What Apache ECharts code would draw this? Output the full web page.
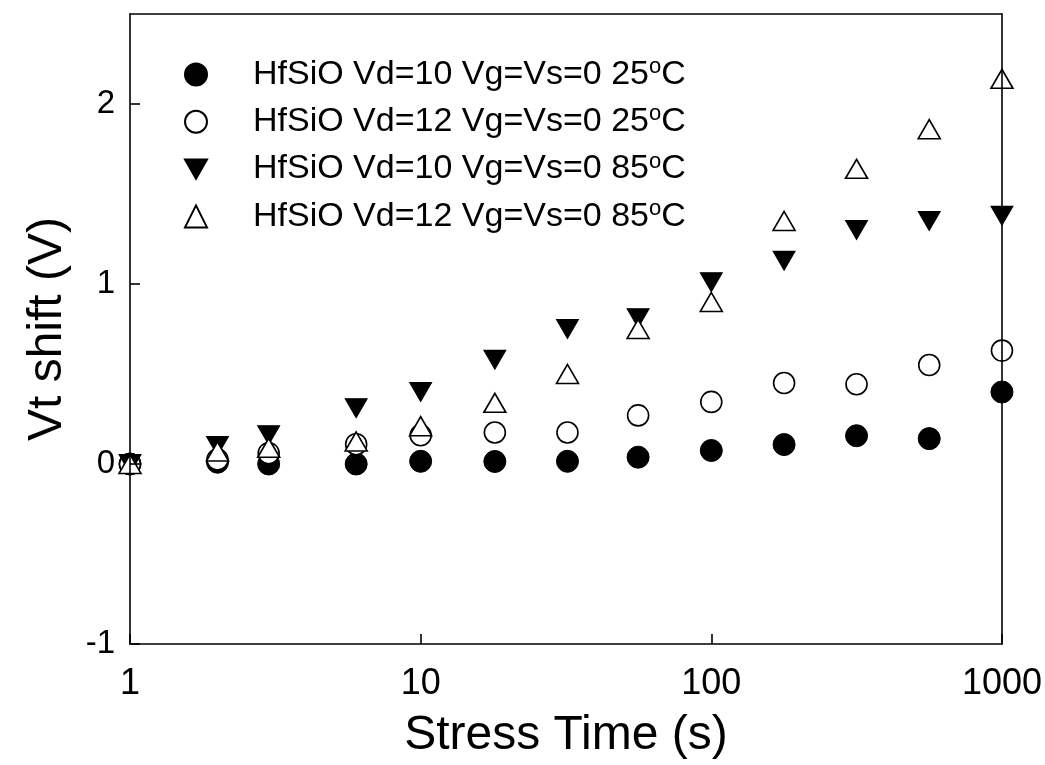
<!DOCTYPE html>
<html>
<head>
<meta charset="utf-8">
<script src="https://cdn.jsdelivr.net/npm/echarts@6/dist/echarts.min.js"></script>
<style>
html,body{margin:0;padding:0;background:#fff;}
#chart{width:1045px;height:765px;}
</style>
</head>
<body>
<div id="chart"></div>
<script>
// Data
const times = [1, 2, 3, 6, 10, 18, 32, 56, 100, 178, 316, 562, 1000];
const vd10_25C = [0, 0.01, 0, 0, 0.015, 0.014, 0.015, 0.038, 0.075, 0.108, 0.157, 0.141, 0.40];
const vd12_25C = [0, 0.025, 0.06, 0.11, 0.16, 0.175, 0.175, 0.27, 0.345, 0.45, 0.443, 0.55, 0.63];
const vd10_85C = [0, 0.10, 0.16, 0.31, 0.40, 0.58, 0.75, 0.81, 1.01, 1.13, 1.30, 1.35, 1.38];
const vd12_85C = [0, 0.07, 0.09, 0.125, 0.21, 0.34, 0.50, 0.75, 0.90, 1.35, 1.64, 1.86, 2.14];
const seriesNames = [
  'HfSiO Vd=10 Vg=Vs=0 25°C',
  'HfSiO Vd=12 Vg=Vs=0 25°C',
  'HfSiO Vd=10 Vg=Vs=0 85°C',
  'HfSiO Vd=12 Vg=Vs=0 85°C'
];
const xTickLabels = ['1', '10', '100', '1000'];
const yTickLabels = ['-1', '0', '1', '2'];

const FONT = '"Liberation Sans", Arial, Helvetica, sans-serif';
const DOWN_TRI = 'path://M0,0L2,0L1,1.732Z';

function pairs(ys) { return times.map((t, i) => [t, ys[i]]); }

const chart = echarts.init(document.getElementById('chart'), null, {renderer: 'canvas'});

const axisLine = {show: true, onZero: false, lineStyle: {color: '#000', width: 1.6}};

const option = {
  backgroundColor: '#fff',
  animation: false,
  textStyle: {fontFamily: FONT, color: '#000'},
  grid: {left: 130, right: 43, top: 14, bottom: 116, containLabel: false},
  legend: {
    orient: 'vertical',
    left: 179,
    top: 51,
    itemWidth: 22,
    itemHeight: 22,
    itemGap: 11.3,
    data: seriesNames,
    selectedMode: false,
    formatter: function (name) {
      return '{gap|}' + name.replace('°C', '{sup|o}C');
    },
    textStyle: {
      fontFamily: FONT,
      fontSize: 34,
      color: '#000',
      lineHeight: 35,
      rich: {
        gap: {width: 41},
        sup: {fontSize: 22, verticalAlign: 'bottom', lineHeight: 20, padding: [0, 0, 14, 0]}
      }
    }
  },
  xAxis: [
    {
      type: 'log', logBase: 10, min: 1, max: 1000,
      position: 'bottom', z: 10,
      axisLine: axisLine,
      axisTick: {show: true, inside: true, length: 10, lineStyle: {color: '#000', width: 1.6}},
      minorTick: {show: false},
      splitLine: {show: false},
      axisLabel: {
        fontFamily: FONT, fontSize: 36, color: '#000', margin: 22,
        formatter: function (v) {
          const s = String(Math.round(v));
          return xTickLabels.indexOf(s) >= 0 ? s : '';
        }
      },
      name: 'Stress Time (s)',
      nameLocation: 'middle',
      nameGap: 68,
      nameTextStyle: {fontFamily: FONT, fontSize: 48, color: '#000'}
    },
    {
      type: 'log', logBase: 10, min: 1, max: 1000,
      position: 'top', z: 10,
      axisLine: axisLine,
      axisTick: {show: false}, axisLabel: {show: false}, splitLine: {show: false}
    }
  ],
  yAxis: [
    {
      type: 'value', min: -1, max: 2.5, interval: 1,
      position: 'left', z: 10,
      axisLine: axisLine,
      axisTick: {show: true, inside: true, length: 10, lineStyle: {color: '#000', width: 1.6}},
      splitLine: {show: false},
      axisLabel: {
        fontFamily: FONT, fontSize: 33, color: '#000', margin: 15,
        showMaxLabel: false,
        formatter: function (v) {
          const s = String(v);
          return yTickLabels.indexOf(s) >= 0 ? s : '';
        }
      },
      name: 'Vt shift (V)',
      nameLocation: 'middle',
      nameGap: 58,
      nameTextStyle: {fontFamily: FONT, fontSize: 48, color: '#000'}
    },
    {
      type: 'value', min: -1, max: 2.5,
      position: 'right', z: 10,
      axisLine: axisLine,
      axisTick: {show: false}, axisLabel: {show: false}, splitLine: {show: false}
    }
  ],
  series: [
    {
      name: seriesNames[0], type: 'scatter', clip: false,
      symbol: 'circle', symbolSize: 22,
      itemStyle: {color: '#000', borderColor: '#000', borderWidth: 1, opacity: 1},
      data: pairs(vd10_25C)
    },
    {
      name: seriesNames[1], type: 'scatter', clip: false,
      symbol: 'circle', symbolSize: 21,
      itemStyle: {color: '#fff', borderColor: '#000', borderWidth: 1.6, opacity: 1},
      data: pairs(vd12_25C)
    },
    {
      name: seriesNames[2], type: 'scatter', clip: false,
      symbol: DOWN_TRI, symbolSize: [22, 19],
      itemStyle: {color: '#000', borderColor: '#000', borderWidth: 1, opacity: 1},
      data: pairs(vd10_85C)
    },
    {
      name: seriesNames[3], type: 'scatter', clip: false,
      symbol: 'triangle', symbolSize: [22, 19],
      itemStyle: {color: '#fff', borderColor: '#000', borderWidth: 1.6, opacity: 1},
      data: pairs(vd12_85C)
    }
  ]
};

chart.setOption(option);
</script>
</body>
</html>
